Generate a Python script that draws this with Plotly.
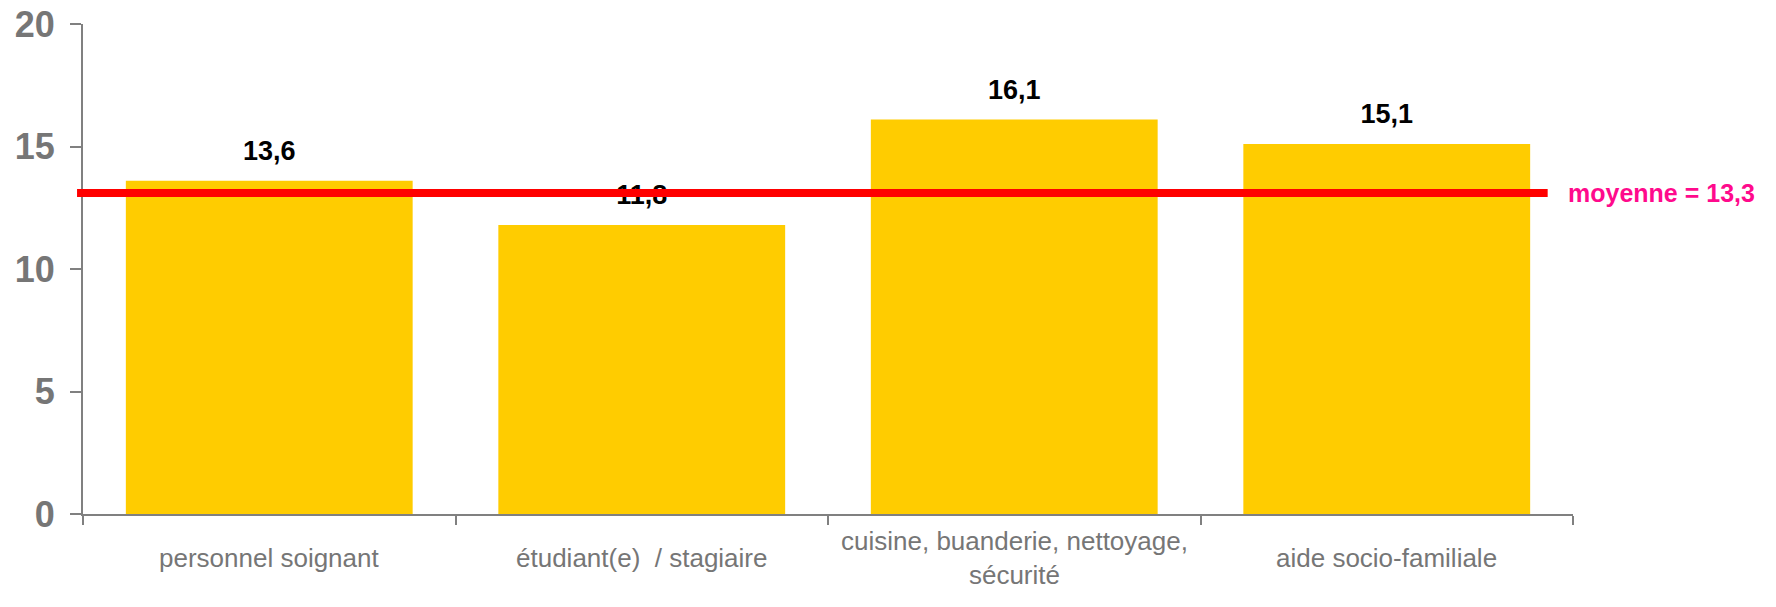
import plotly.graph_objects as go

categories = ["personnel soignant", "étudiant(e)  / stagiaire",
              "cuisine, buanderie, nettoyage,<br>sécurité", "aide socio-familiale"]
values = [13.6, 11.8, 16.1, 15.1]
value_labels = ["13,6", "11,8", "16,1", "15,1"]
mean_line_value = 13.1
mean_label = "moyenne = 13,3"
y_ticks = [0, 5, 10, 15, 20]

SANS = "Liberation Sans, Arial, sans-serif"
GRAY = "#767676"
AXIS = "#808080"

fig = go.Figure()
fig.add_trace(go.Bar(x=categories, y=values, marker=dict(color="#FFCC00", line=dict(width=0)),
                     hoverinfo="skip"))
fig.add_trace(go.Scatter(x=categories, y=values, mode="markers+text", text=value_labels,
                         textposition="top center",
                         marker=dict(size=21, opacity=0),
                         textfont=dict(family=SANS, size=27, color="#000000", weight="bold"),
                         cliponaxis=False, hoverinfo="skip"))

fig.add_shape(type="line", xref="paper", yref="y", x0=-0.004, x1=0.983,
              y0=mean_line_value, y1=mean_line_value,
              line=dict(color="#FF0000", width=8), layer="above")

fig.add_annotation(xref="paper", yref="y", x=0.995, y=mean_line_value, xanchor="left",
                   yanchor="middle", text=mean_label, showarrow=False,
                   font=dict(family=SANS, size=25, color="#FF0A8C", weight="bold"))

for c in categories:
    fig.add_annotation(xref="x", yref="paper", x=c, y=-0.09, yanchor="middle",
                       text=c, showarrow=False,
                       font=dict(family=SANS, size=26, color=GRAY))

fig.update_layout(
    width=1768, height=599,
    margin=dict(l=75, r=203, t=16, b=93),
    paper_bgcolor="white", plot_bgcolor="white",
    bargap=0.23, showlegend=False,
)
fig.update_xaxes(type="category", showticklabels=False, showline=True, linecolor=AXIS,
                 linewidth=2, ticks="outside", ticklen=9, tickcolor=AXIS, tickwidth=2,
                 tickson="boundaries", showgrid=False, zeroline=False, automargin=False)
fig.update_yaxes(range=[0, 20], tickvals=y_ticks, showline=True, linecolor=AXIS, linewidth=2,
                 ticks="outside", ticklen=11, tickcolor=AXIS, tickwidth=2, showgrid=False,
                 zeroline=False, ticklabelstandoff=8, ticklabeloverflow="allow",
                 automargin=False,
                 tickfont=dict(family=SANS, size=36, color=GRAY, weight="bold"))

fig.write_html("out.html")
